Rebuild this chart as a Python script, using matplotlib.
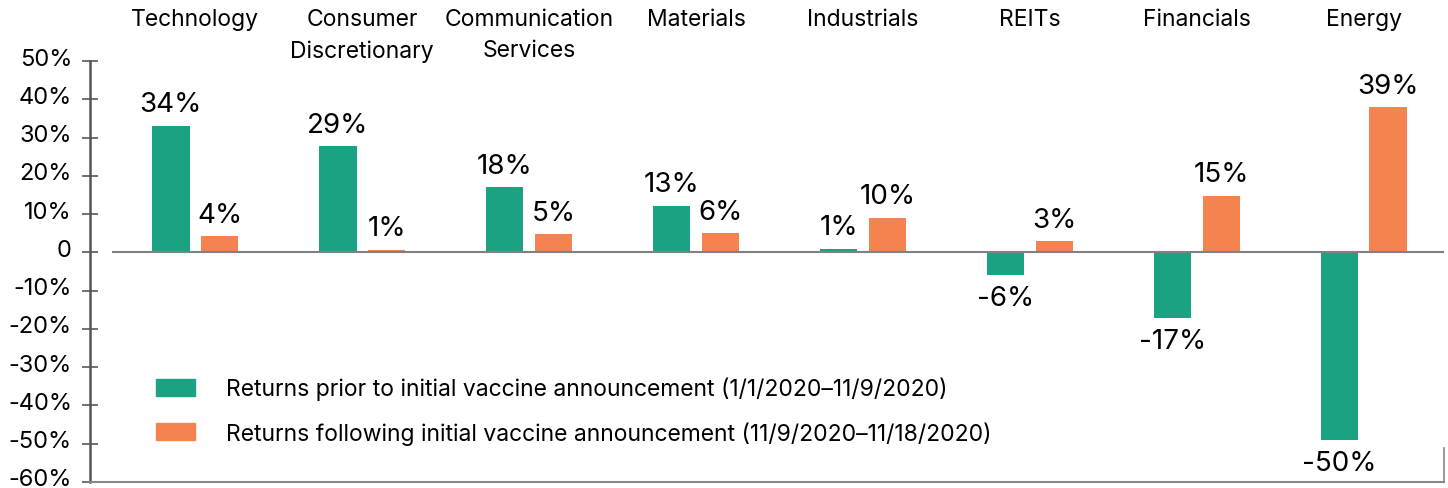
import matplotlib
matplotlib.use('Agg')
import matplotlib.pyplot as plt
import matplotlib.transforms as mtransforms
from matplotlib.patches import Patch

plt.rcParams['font.family'] = ['Inter', 'DejaVu Sans']

sectors = ['Technology', 'Consumer\nDiscretionary', 'Communication\nServices', 'Materials',
           'Industrials', 'REITs', 'Financials', 'Energy']
prior = [33.1, 27.8, 17.1, 12.2, 1.0, -6.0, -17.2, -49.1]
prior_labels = ['34%', '29%', '18%', '13%', '1%', '-6%', '-17%', '-50%']
after = [4.2, 0.7, 4.7, 5.0, 9.1, 2.9, 14.8, 38.0]
after_labels = ['4%', '1%', '5%', '6%', '10%', '3%', '15%', '39%']
yticks = [50, 40, 30, 20, 10, 0, -10, -20, -30, -40, -50, -60]
ytick_labels = ['50%', '40%', '30%', '20%', '10%', '0', '-10%', '-20%', '-30%', '-40%', '-50%', '-60%']
legend_labels = ['Returns prior to initial vaccine announcement (1/1/2020\u201311/9/2020)',
                 'Returns following initial vaccine announcement (11/9/2020\u201311/18/2020)']

green = '#1ba283'
orange = '#f5834f'

fig = plt.figure(figsize=(14.48, 4.89), dpi=100)
ax = fig.add_axes([90/1448, 6/489, 1354/1448, 421/489])

x = list(range(len(sectors)))
w = 0.225
off = 0.146
b1 = ax.bar([i - off for i in x], prior, w, color=green)
b2 = ax.bar([i + off for i in x], after, w, color=orange)

for bars, labs in ((b1, prior_labels), (b2, after_labels)):
    for b, lab in zip(bars, labs):
        h = b.get_height()
        if h >= 0:
            ax.annotate(lab, (b.get_x() + b.get_width()/2, h), xytext=(0, 6),
                        textcoords='offset points', ha='center', va='bottom', fontsize=20)
        else:
            ax.annotate(lab, (b.get_x() + b.get_width()/2, h), xytext=(0, -7),
                        textcoords='offset points', ha='center', va='top', fontsize=20)

xmax = 7.48
ax.set_xlim(-0.63, xmax)
ax.set_ylim(-60, 50)
ax.hlines(0, -0.5, xmax, color='#808080', lw=1.5, zorder=1)

ax.set_yticks(yticks)
ax.set_yticklabels(ytick_labels)
ax.tick_params(axis='y', direction='inout', length=12, width=1.3, color='#666666',
               labelsize=17, pad=7)
# labels sit a few pixels above their ticks in the original
shift = mtransforms.ScaledTranslation(0, 5/100, fig.dpi_scale_trans)
for lab in ax.get_yticklabels():
    lab.set_transform(lab.get_transform() + shift)
ax.set_xticks([])

ax.spines['top'].set_visible(False)
ax.spines['left'].set_color('#555555')
ax.spines['left'].set_linewidth(1.8)
ax.spines['bottom'].set_color('#888888')
ax.spines['bottom'].set_linewidth(1.5)
ax.spines['right'].set_color('#888888')
ax.spines['right'].set_linewidth(1.2)
ax.spines['right'].set_bounds(-60, -51)

trans = mtransforms.blended_transform_factory(ax.transData, fig.transFigure)
for i, s in enumerate(sectors):
    ax.text(i, 1 - 9/489, s, transform=trans, ha='center', va='top', fontsize=16.5,
            linespacing=1.55)

handles = [Patch(color=green), Patch(color=orange)]
ax.legend(handles, legend_labels, loc='upper left', bbox_to_anchor=(156/1448, 1 - 378/489),
          bbox_transform=fig.transFigure, frameon=False, fontsize=16.5, borderpad=0,
          borderaxespad=0, handlelength=1.7, handleheight=0.78, handletextpad=1.35,
          labelspacing=0.9)

fig.savefig('out.png', dpi=100)
